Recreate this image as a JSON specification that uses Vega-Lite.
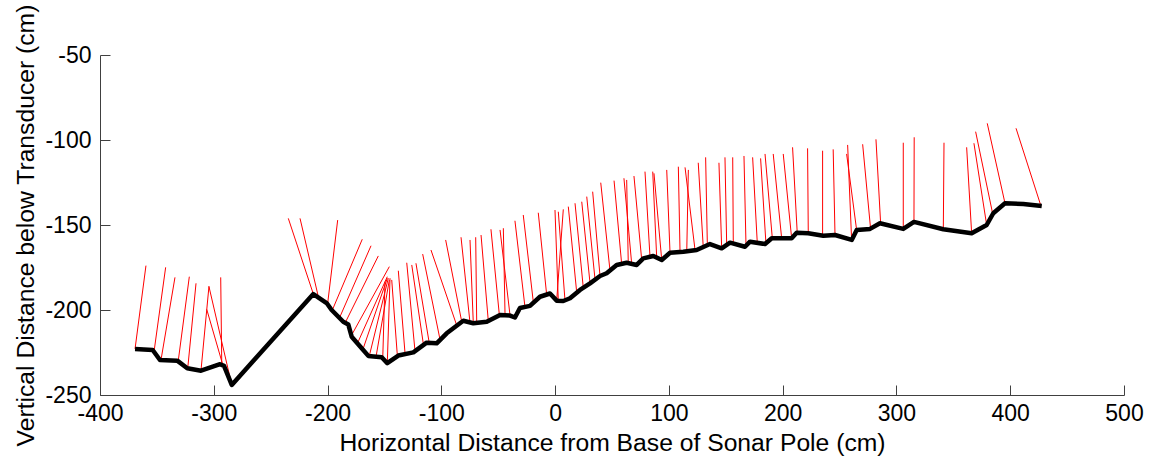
{
  "$schema": "https://vega.github.io/schema/vega-lite/v6.json",
  "width": 1024,
  "height": 340,
  "autosize": "none",
  "padding": {"left": 100, "top": 55, "right": 27, "bottom": 65},
  "background": "white",
  "config": {
    "view": {"stroke": null},
    "axis": {
      "grid": false,
      "domainColor": "#404040",
      "tickColor": "#404040",
      "tickSize": -10,
      "labelFont": "Liberation Sans",
      "labelFontSize": 23,
      "labelColor": "#000000",
      "labelFlush": false,
      "labelOverlap": false,
      "titleFont": "Liberation Sans",
      "titleFontSize": 24.7,
      "titleFontWeight": "normal",
      "titleColor": "#000000"
    }
  },
  "datasets": {
    "profile": [
      {"x": -369.2, "y": -222.9}, {"x": -353.7, "y": -223.5}, {"x": -347.3, "y": -229.4}, {"x": -332.1, "y": -229.8},
      {"x": -323.3, "y": -234.3}, {"x": -311.2, "y": -235.7}, {"x": -294.5, "y": -231.9}, {"x": -291.0, "y": -232.9},
      {"x": -284.2, "y": -244.1}, {"x": -212.5, "y": -190.6}, {"x": -200.8, "y": -195.9}, {"x": -196.4, "y": -200.0},
      {"x": -186.2, "y": -206.9}, {"x": -181.8, "y": -208.5}, {"x": -178.8, "y": -215.7}, {"x": -170.0, "y": -222.5},
      {"x": -164.2, "y": -227.0}, {"x": -152.4, "y": -227.8}, {"x": -147.5, "y": -231.3}, {"x": -137.8, "y": -226.8},
      {"x": -124.6, "y": -224.9}, {"x": -112.9, "y": -219.2}, {"x": -104.1, "y": -219.6}, {"x": -95.3, "y": -213.7},
      {"x": -80.7, "y": -206.3}, {"x": -71.9, "y": -207.8}, {"x": -60.1, "y": -206.9}, {"x": -48.4, "y": -202.9},
      {"x": -39.6, "y": -203.3}, {"x": -35.3, "y": -204.4}, {"x": -30.9, "y": -198.8}, {"x": -22.1, "y": -197.6},
      {"x": -13.3, "y": -192.2}, {"x": -4.5, "y": -190.3}, {"x": 1.4, "y": -194.5}, {"x": 7.2, "y": -194.7},
      {"x": 13.1, "y": -193.1}, {"x": 21.9, "y": -188.2}, {"x": 30.7, "y": -184.3}, {"x": 39.5, "y": -180.0},
      {"x": 45.3, "y": -178.4}, {"x": 54.1, "y": -173.5}, {"x": 62.9, "y": -172.2}, {"x": 71.7, "y": -173.5},
      {"x": 77.5, "y": -169.6}, {"x": 86.3, "y": -168.2}, {"x": 93.7, "y": -170.6}, {"x": 101.0, "y": -166.3},
      {"x": 112.7, "y": -165.7}, {"x": 124.4, "y": -164.7}, {"x": 136.1, "y": -161.2}, {"x": 146.4, "y": -163.7},
      {"x": 153.7, "y": -160.4}, {"x": 166.9, "y": -162.8}, {"x": 171.3, "y": -159.8}, {"x": 184.5, "y": -161.2},
      {"x": 190.4, "y": -157.8}, {"x": 207.9, "y": -157.8}, {"x": 212.3, "y": -154.5}, {"x": 222.5, "y": -154.9},
      {"x": 235.7, "y": -156.3}, {"x": 246.0, "y": -155.9}, {"x": 260.7, "y": -158.8}, {"x": 265.1, "y": -152.9},
      {"x": 276.8, "y": -152.3}, {"x": 285.5, "y": -149.0}, {"x": 306.0, "y": -152.3}, {"x": 315.4, "y": -148.2},
      {"x": 341.2, "y": -152.5}, {"x": 366.1, "y": -154.9}, {"x": 379.3, "y": -150.0}, {"x": 385.1, "y": -143.1},
      {"x": 395.4, "y": -137.2}, {"x": 411.5, "y": -137.6}, {"x": 427.7, "y": -138.8}
    ],
    "beams": [
      {"x": -359.6, "y": -173.9, "x2": -369.2, "y2": -222.9},
      {"x": -342.3, "y": -174.9, "x2": -352.3, "y2": -223.5},
      {"x": -334.1, "y": -180.8, "x2": -346.4, "y2": -229.4},
      {"x": -321.5, "y": -180.4, "x2": -331.2, "y2": -229.8},
      {"x": -315.6, "y": -184.3, "x2": -322.9, "y2": -234.3},
      {"x": -304.2, "y": -185.9, "x2": -311.2, "y2": -235.3},
      {"x": -304.2, "y": -186.3, "x2": -284.2, "y2": -244.1},
      {"x": -306.2, "y": -199.6, "x2": -292.2, "y2": -232.0},
      {"x": -293.9, "y": -180.8, "x2": -293.0, "y2": -231.5},
      {"x": -234.5, "y": -146.1, "x2": -212.5, "y2": -190.6},
      {"x": -224.2, "y": -146.1, "x2": -208.1, "y2": -192.2},
      {"x": -191.1, "y": -147.1, "x2": -199.9, "y2": -196.1},
      {"x": -169.5, "y": -158.4, "x2": -196.4, "y2": -201.0},
      {"x": -161.8, "y": -162.2, "x2": -189.7, "y2": -204.9},
      {"x": -155.4, "y": -168.2, "x2": -184.7, "y2": -207.8},
      {"x": -145.7, "y": -174.5, "x2": -178.8, "y2": -214.7},
      {"x": -147.5, "y": -180.4, "x2": -174.4, "y2": -220.6},
      {"x": -147.5, "y": -181.3, "x2": -169.1, "y2": -223.5},
      {"x": -146.6, "y": -181.3, "x2": -163.3, "y2": -227.0},
      {"x": -145.7, "y": -182.3, "x2": -157.4, "y2": -227.5},
      {"x": -149.5, "y": -183.3, "x2": -151.5, "y2": -228.4},
      {"x": -145.1, "y": -181.3, "x2": -147.5, "y2": -231.3},
      {"x": -143.6, "y": -182.3, "x2": -138.7, "y2": -226.5},
      {"x": -137.8, "y": -176.9, "x2": -131.9, "y2": -225.5},
      {"x": -130.4, "y": -172.2, "x2": -123.1, "y2": -224.5},
      {"x": -126.0, "y": -173.5, "x2": -115.8, "y2": -220.0},
      {"x": -122.3, "y": -172.5, "x2": -110.6, "y2": -219.5},
      {"x": -116.4, "y": -167.1, "x2": -101.2, "y2": -217.2},
      {"x": -109.1, "y": -164.7, "x2": -86.5, "y2": -209.0},
      {"x": -96.2, "y": -158.8, "x2": -82.1, "y2": -206.8},
      {"x": -82.7, "y": -157.2, "x2": -74.8, "y2": -207.5},
      {"x": -74.8, "y": -158.8, "x2": -71.9, "y2": -207.8},
      {"x": -69.8, "y": -157.2, "x2": -68.9, "y2": -207.5},
      {"x": -65.1, "y": -155.9, "x2": -58.7, "y2": -206.6},
      {"x": -56.4, "y": -152.5, "x2": -49.0, "y2": -203.0},
      {"x": -48.4, "y": -152.9, "x2": -39.6, "y2": -203.3},
      {"x": -45.5, "y": -151.9, "x2": -44.0, "y2": -203.3},
      {"x": -35.3, "y": -147.5, "x2": -26.5, "y2": -198.2},
      {"x": -28.0, "y": -144.1, "x2": -19.2, "y2": -195.1},
      {"x": -14.8, "y": -142.8, "x2": -7.4, "y2": -191.2},
      {"x": -0.1, "y": -141.2, "x2": 2.8, "y2": -194.5},
      {"x": 2.8, "y": -142.2, "x2": 8.7, "y2": -194.5},
      {"x": 7.2, "y": -140.8, "x2": 1.4, "y2": -194.3},
      {"x": 11.6, "y": -139.2, "x2": 19.0, "y2": -189.8},
      {"x": 17.5, "y": -137.2, "x2": 24.8, "y2": -187.1},
      {"x": 23.4, "y": -136.3, "x2": 30.7, "y2": -184.3},
      {"x": 27.8, "y": -133.3, "x2": 35.1, "y2": -182.2},
      {"x": 33.0, "y": -130.4, "x2": 39.5, "y2": -180.3},
      {"x": 40.1, "y": -125.1, "x2": 48.2, "y2": -176.5},
      {"x": 51.8, "y": -123.9, "x2": 58.5, "y2": -173.0},
      {"x": 60.5, "y": -122.5, "x2": 67.3, "y2": -172.8},
      {"x": 62.9, "y": -123.5, "x2": 64.3, "y2": -172.4},
      {"x": 69.3, "y": -121.2, "x2": 76.1, "y2": -170.5},
      {"x": 79.0, "y": -118.6, "x2": 83.4, "y2": -168.8},
      {"x": 85.8, "y": -118.6, "x2": 89.3, "y2": -169.3},
      {"x": 86.9, "y": -119.6, "x2": 93.7, "y2": -170.5},
      {"x": 98.1, "y": -117.6, "x2": 101.0, "y2": -166.3},
      {"x": 108.3, "y": -115.7, "x2": 109.8, "y2": -165.8},
      {"x": 114.2, "y": -116.1, "x2": 123.0, "y2": -164.8},
      {"x": 117.1, "y": -117.6, "x2": 115.7, "y2": -165.5},
      {"x": 125.8, "y": -113.4, "x2": 130.2, "y2": -163.0},
      {"x": 132.3, "y": -110.2, "x2": 133.8, "y2": -161.8},
      {"x": 144.0, "y": -113.4, "x2": 146.4, "y2": -163.7},
      {"x": 149.3, "y": -110.2, "x2": 150.8, "y2": -162.0},
      {"x": 156.1, "y": -110.2, "x2": 156.6, "y2": -160.8},
      {"x": 166.0, "y": -109.4, "x2": 167.8, "y2": -162.5},
      {"x": 173.6, "y": -110.2, "x2": 177.7, "y2": -160.6},
      {"x": 180.6, "y": -110.8, "x2": 185.3, "y2": -160.9},
      {"x": 184.5, "y": -108.2, "x2": 190.9, "y2": -157.8},
      {"x": 191.7, "y": -108.2, "x2": 199.1, "y2": -157.8},
      {"x": 200.5, "y": -108.2, "x2": 207.9, "y2": -157.8},
      {"x": 208.7, "y": -104.3, "x2": 212.8, "y2": -154.5},
      {"x": 221.9, "y": -104.9, "x2": 222.5, "y2": -154.9},
      {"x": 235.1, "y": -106.3, "x2": 235.1, "y2": -156.3},
      {"x": 244.4, "y": -105.5, "x2": 246.0, "y2": -155.9},
      {"x": 257.1, "y": -102.9, "x2": 260.6, "y2": -158.8},
      {"x": 256.2, "y": -108.2, "x2": 265.0, "y2": -152.9},
      {"x": 270.3, "y": -102.5, "x2": 277.3, "y2": -152.4},
      {"x": 282.0, "y": -99.6, "x2": 286.1, "y2": -149.0},
      {"x": 306.0, "y": -101.6, "x2": 306.0, "y2": -152.4},
      {"x": 315.6, "y": -98.4, "x2": 315.4, "y2": -148.2},
      {"x": 341.8, "y": -101.6, "x2": 341.2, "y2": -152.5},
      {"x": 361.7, "y": -104.3, "x2": 366.1, "y2": -154.9},
      {"x": 368.1, "y": -101.9, "x2": 379.3, "y2": -150.0},
      {"x": 369.6, "y": -95.1, "x2": 384.5, "y2": -143.1},
      {"x": 379.8, "y": -90.2, "x2": 395.4, "y2": -137.2},
      {"x": 405.1, "y": -93.1, "x2": 427.0, "y2": -138.8}
    ]
  },
  "layer": [
    {
      "data": {"name": "beams"},
      "mark": {"type": "rule", "color": "#ff0000", "strokeWidth": 1},
      "encoding": {
        "x": {"field": "x", "type": "quantitative", "scale": {"domain": [-400, 500], "nice": false, "zero": false},
              "axis": {"title": "Horizontal Distance from Base of Sonar Pole (cm)", "values": [-400, -300, -200, -100, 0, 100, 200, 300, 400, 500], "labelExpr": "'' + datum.value", "labelPadding": 17, "titlePadding": 5}},
        "y": {"field": "y", "type": "quantitative", "scale": {"domain": [-250, -50], "nice": false, "zero": false},
              "axis": {"title": "Vertical Distance below Transducer (cm)", "values": [-250, -200, -150, -100, -50], "labelExpr": "'' + datum.value", "labelPadding": 19, "titlePadding": 6}},
        "x2": {"field": "x2"},
        "y2": {"field": "y2"}
      }
    },
    {
      "data": {"name": "profile"},
      "mark": {"type": "line", "color": "#000000", "strokeWidth": 4.5, "strokeJoin": "round"},
      "encoding": {
        "x": {"field": "x", "type": "quantitative"},
        "y": {"field": "y", "type": "quantitative"}
      }
    }
  ]
}
